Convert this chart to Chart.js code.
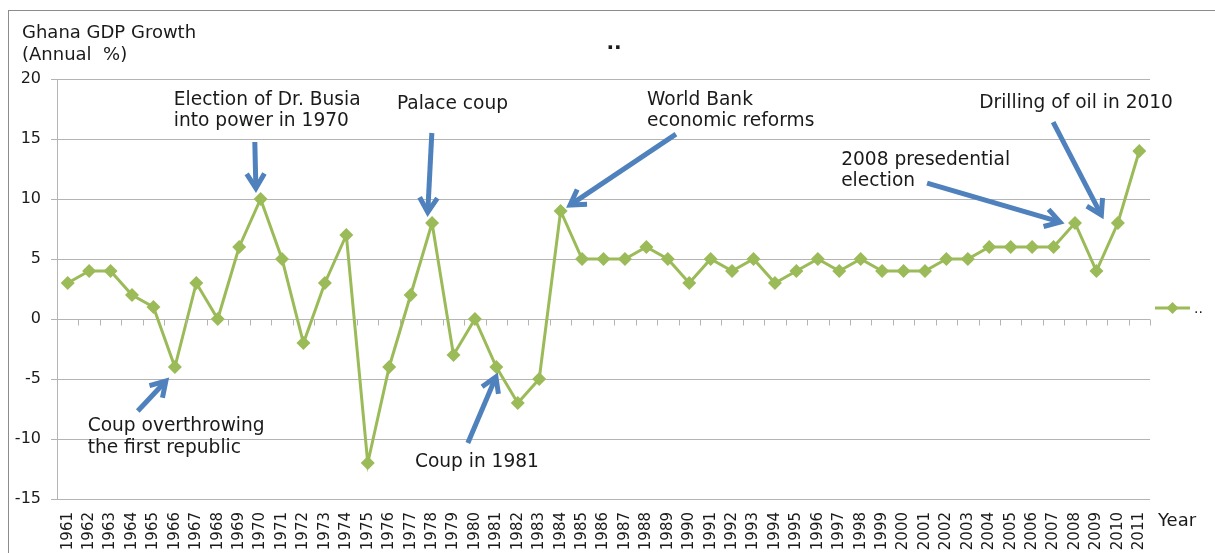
<!DOCTYPE html>
<html>
<head>
<meta charset="utf-8">
<script src="https://cdn.jsdelivr.net/npm/chart.js@4.4.1/dist/chart.umd.min.js"></script>
<style>
  html, body { margin: 0; padding: 0; background: #fff; }
  #wrap { width: 1215px; height: 553px; position: relative; }
</style>
</head>
<body>
<div id="wrap"><canvas id="gdp"></canvas></div>
<script>
// Ghana GDP growth, annual %
const years = [];
for (let y = 1961; y <= 2011; y++) years.push(String(y));

const growth = [
  3, 4, 4, 2, 1, -4, 3, 0, 6, 10,      // 1961-1970
  5, -2, 3, 7, -12, -4, 2, 8, -3, 0,   // 1971-1980
  -4, -7, -5, 9, 5, 5, 5, 6, 5, 3,     // 1981-1990
  5, 4, 5, 3, 4, 5, 4, 5, 4, 4,        // 1991-2000
  4, 5, 5, 6, 6, 6, 6, 8, 4, 8,        // 2001-2010
  14                                    // 2011
];

const yTicks = [-15, -10, -5, 0, 5, 10, 15, 20];

// annotation texts, anchored in data space (year, value)
const notes = [
  { lines: ['Election of Dr. Busia', 'into power in 1970'], year: 1965.95, value: 18.25 },
  { lines: ['Palace coup'], year: 1976.36, value: 17.9 },
  { lines: ['World Bank', 'economic reforms'], year: 1988.03, value: 18.25 },
  { lines: ['Drilling of oil in 2010'], year: 2003.53, value: 18.0 },
  { lines: ['2008 presedential', 'election'], year: 1997.09, value: 13.25 },
  { lines: ['Coup overthrowing', 'the first republic'], year: 1961.93, value: -8.95 },
  { lines: ['Coup in 1981'], year: 1977.2, value: -11.9 }
];

// arrows: [fromYear, fromValue, toYear, toValue]
const arrows = [
  [1969.73, 14.75, 1969.78, 10.9],
  [1977.99, 15.5, 1977.8, 8.9],
  [1989.38, 15.4, 1984.44, 9.5],
  [2006.98, 16.4, 2009.23, 8.67],
  [2001.1, 11.33, 2007.3, 8.08],
  [1964.27, -7.67, 1965.58, -5.17],
  [1979.67, -10.33, 1980.98, -4.83]
];

const GREEN = '#9bbb59';
const BLUE = '#4f81bd';
const GRID = '#b4b4b4';
const TEXT = '#1a1a1a';
const FONT = "'DejaVu Sans', Verdana, sans-serif";

function px(chart, year) {
  return chart.scales.x.getPixelForValue(year - 1961);
}
function py(chart, value) {
  return chart.scales.y.getPixelForValue(value);
}

const extras = {
  id: 'extras',
  beforeDraw(chart) {
    const ctx = chart.ctx;
    ctx.save();
    ctx.strokeStyle = '#8c8c8c';
    ctx.lineWidth = 1;
    ctx.strokeRect(8.5, 10.5, 1400, 800);
    ctx.restore();
  },
  afterDraw(chart) {
    const ctx = chart.ctx;
    const area = chart.chartArea;
    const xs = chart.scales.x;
    ctx.save();

    // zero axis tick marks, between categories
    const zero = Math.round(py(chart, 0)) + 0.5;
    const step = xs.getPixelForValue(1) - xs.getPixelForValue(0);
    ctx.strokeStyle = GRID;
    ctx.lineWidth = 1;
    ctx.beginPath();
    for (let i = 0; i <= years.length; i++) {
      const x = Math.round(xs.getPixelForValue(0) - step / 2 + i * step) + 0.5;
      ctx.moveTo(x, zero);
      ctx.lineTo(x, zero + 6);
    }
    ctx.stroke();

    // title and axis titles
    ctx.fillStyle = TEXT;
    ctx.font = 'bold 20px ' + FONT;
    ctx.textAlign = 'center';
    ctx.textBaseline = 'middle';
    ctx.fillText('..', 614, 44);

    ctx.font = '18px ' + FONT;
    ctx.textAlign = 'left';
    ctx.fillText('Ghana GDP Growth', 22, 33);
    ctx.fillText('(Annual  %)', 22, 55);
    ctx.fillText('Year', area.right + 8, area.bottom + 22);

    // legend
    const ly = (area.top + area.bottom) / 2 + 19;
    const lx = area.right + 5;
    ctx.strokeStyle = GREEN;
    ctx.lineWidth = 3;
    ctx.beginPath();
    ctx.moveTo(lx, ly);
    ctx.lineTo(lx + 35, ly);
    ctx.stroke();
    ctx.fillStyle = GREEN;
    ctx.beginPath();
    ctx.moveTo(lx + 17.5, ly - 6);
    ctx.lineTo(lx + 23.5, ly);
    ctx.lineTo(lx + 17.5, ly + 6);
    ctx.lineTo(lx + 11.5, ly);
    ctx.closePath();
    ctx.fill();
    ctx.fillStyle = TEXT;
    ctx.font = '14px ' + FONT;
    ctx.textAlign = 'left';
    ctx.fillText('..', lx + 39, ly + 1);

    // annotation texts
    ctx.font = '18.6px ' + FONT;
    ctx.textBaseline = 'middle';
    notes.forEach(n => {
      const x = px(chart, n.year);
      const y = py(chart, n.value);
      n.lines.forEach((t, i) => ctx.fillText(t, x, y + i * 21.5));
    });

    // arrows
    ctx.strokeStyle = BLUE;
    ctx.lineWidth = 5;
    ctx.lineCap = 'butt';
    ctx.lineJoin = 'miter';
    arrows.forEach(a => {
      const x0 = px(chart, a[0]), y0 = py(chart, a[1]);
      const x1 = px(chart, a[2]), y1 = py(chart, a[3]);
      const ang = Math.atan2(y1 - y0, x1 - x0);
      ctx.beginPath();
      ctx.moveTo(x0, y0);
      ctx.lineTo(x1 - 3 * Math.cos(ang), y1 - 3 * Math.sin(ang));
      ctx.stroke();
      const head = 17, spread = 0.55;
      ctx.beginPath();
      ctx.moveTo(x1 - head * Math.cos(ang - spread), y1 - head * Math.sin(ang - spread));
      ctx.lineTo(x1, y1);
      ctx.lineTo(x1 - head * Math.cos(ang + spread), y1 - head * Math.sin(ang + spread));
      ctx.stroke();
    });

    ctx.restore();
  }
};

new Chart(document.getElementById('gdp'), {
  type: 'line',
  data: {
    labels: years,
    datasets: [{
      label: '..',
      data: growth,
      borderColor: GREEN,
      backgroundColor: GREEN,
      borderWidth: 3,
      tension: 0,
      pointStyle: 'rectRot',
      pointRadius: 7,
      pointBackgroundColor: GREEN,
      pointBorderColor: GREEN,
      pointBorderWidth: 0
    }]
  },
  options: {
    responsive: true,
    maintainAspectRatio: false,
    animation: false,
    layout: {
      padding: { top: 79, right: 65, bottom: 0, left: 0 }
    },
    scales: {
      x: {
        type: 'category',
        offset: true,
        grid: { display: false, drawTicks: false },
        border: { display: false },
        ticks: {
          autoSkip: false,
          minRotation: 90,
          maxRotation: 90,
          padding: 13,
          color: TEXT,
          font: { family: FONT, size: 15 }
        },
        afterFit(scale) { scale.height = 54; }
      },
      y: {
        min: -15,
        max: 20,
        afterBuildTicks(scale) { scale.ticks = yTicks.map(v => ({ value: v })); },
        grid: { color: GRID, tickLength: 6, drawTicks: true },
        border: { display: true, color: GRID },
        ticks: {
          padding: 10,
          color: TEXT,
          font: { family: FONT, size: 16 }
        },
        afterFit(scale) { scale.width = 57; }
      }
    },
    plugins: {
      legend: { display: false },
      title: { display: false },
      tooltip: { enabled: false }
    }
  },
  plugins: [extras]
});
</script>
</body>
</html>
